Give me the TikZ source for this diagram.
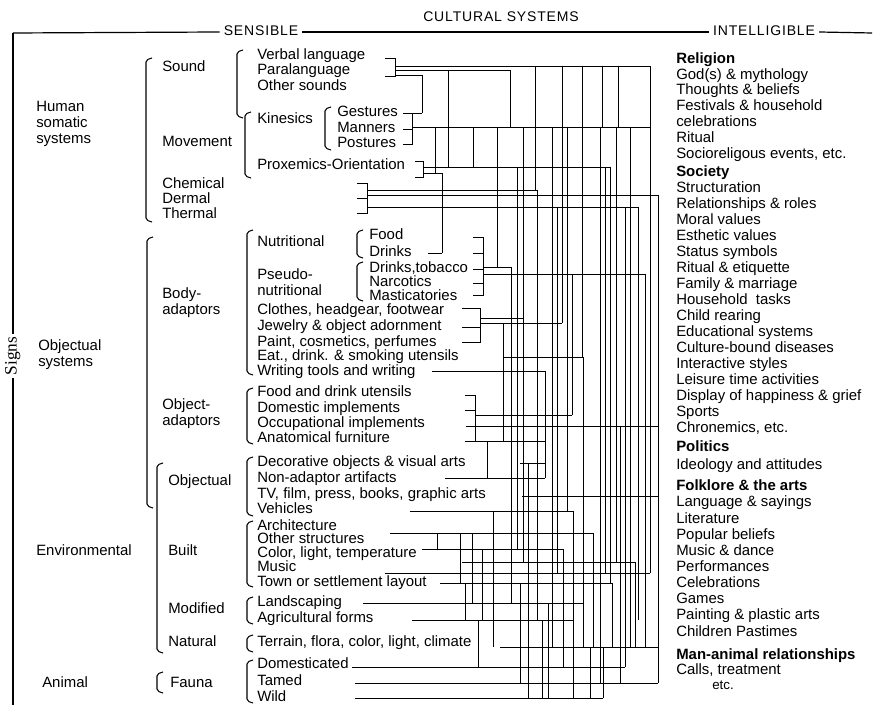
\documentclass[tikz,border=0pt]{standalone}
\usepackage{fontspec}
\setmainfont{Liberation Sans}
\newfontfamily\signfont{Liberation Serif}
\begin{document}
\begin{tikzpicture}[x=0.75pt,y=-0.75pt,
  font=\fontsize{11.2}{12}\selectfont,
  every node/.style={inner sep=0pt, anchor=west, text height=7.6pt, text depth=2pt},
  net/.style={line width=0.72pt},
  brk/.style={line width=0.8pt, rounded corners=1.5pt},
  hdr/.style={font=\fontsize{10.5}{12}\selectfont\addfontfeature{LetterSpace=6}, anchor=center, inner xsep=3pt}]
\useasboundingbox (0,0) rectangle (877,705);

% ---------- header ----------
\node[hdr] (cult) at (501,18) {CULTURAL SYSTEMS};
\node[hdr] (sens) at (261,32) {SENSIBLE};
\node[hdr] (intel) at (764,32) {INTELLIGIBLE};
\coordinate (tl) at (13,33);
\coordinate (tr) at (872,33);
\draw[line width=0.9pt] (tl) -- (sens.west);
\draw[line width=0.9pt] (sens.east) -- (intel.west);
\draw[line width=0.9pt] (intel.east) -- (tr);
\node[font=\signfont\fontsize{13}{14}\selectfont, rotate=90, anchor=center, inner xsep=2pt] (signs) at (13,356) {Signs};
\coordinate (bl) at (13,705);
\draw[line width=1pt] (tl) -- (signs.east);
\draw[line width=1pt] (signs.west) -- (bl);

% ---------- first column ----------
\foreach \n/\x/\y/\t in {h1/36/108/Human, h2/36/124/somatic, h3/36/140/systems,
  o1/38/347/Objectual, o2/38/363/systems, env/36/552/Environmental, ani/42/684/Animal}
  \node (\n) at (\x,\y) {\t};

% ---------- second column ----------
\foreach \n/\x/\y/\t in {snd/162/68/Sound, mov/162/143/Movement, che/162/185/Chemical,
  der/162/200/Dermal, the/162/215/Thermal, bod1/162/295/Body-, bod2/162/311/adaptors,
  oba1/162/406/Object-, oba2/162/422/adaptors, eobj/168/482/Objectual, blt/168/552/Built,
  mod/168/610/Modified, nat/168/643/Natural, fau/170/684/Fauna}
  \node (\n) at (\x,\y) {\t};

% ---------- third column ----------
\foreach \n/\x/\y/\t in {verb/257/56/Verbal language, para/257/71/Paralanguage,
  oth/257/87/Other sounds, kin/257/120/Kinesics, prox/257/166/Proxemics-Orientation,
  nut/257/243/Nutritional, pse1/257/276/Pseudo-, pse2/257/292/nutritional,
  clo/257/311/{Clothes, headgear, footwear}, jew/257/327/Jewelry \& object adornment,
  pai/257/343/{Paint, cosmetics, perfumes}, eat/257/357/{Eat., drink. \& smoking utensils},
  wri/257/372/Writing tools and writing, fdu/257/393/Food and drink utensils,
  dom/257/409/Domestic implements, occ/257/424/Occupational implements,
  ana/257/439/Anatomical furniture, dec/257/463/Decorative objects \& visual arts,
  non/257/479/Non-adaptor artifacts, tv/257/495/{TV, film, press, books, graphic arts},
  veh/257/510/Vehicles, arc/257/527/Architecture, ost/257/540/Other structures,
  col/257/554/{Color, light, temperature}, mus/257/568/Music,
  town/257/583/Town or settlement layout, lan/257/603/Landscaping,
  agr/257/619/Agricultural forms, ter/257/643/{Terrain, flora, color, light, climate},
  domc/257/665/Domesticated, tam/257/682/Tamed, wild/257/698/Wild}
  \node (\n) at (\x,\y) {\t};

% ---------- fourth column ----------
\foreach \n/\x/\y/\t in {ges/337/113/Gestures, man/337/129/Manners, pos/337/144/Postures,
  food/369/236/Food, drk/369/253/Drinks, dtob/369/269/{Drinks,tobacco},
  nar/369/283/Narcotics, mas/369/297/Masticatories}
  \node (\n) at (\x,\y) {\t};

% ---------- right column ----------
\foreach \n/\y/\t in {r1/60/\textbf{Religion}, r2/76/God(s) \& mythology, r3/91/Thoughts \& beliefs,
  r4/107/Festivals \& household, r5/123/celebrations, r6/139/Ritual,
  r7/155/{Socioreligous events, etc.}, r8/173/\textbf{Society}, r9/189/Structuration,
  r10/205/Relationships \& roles, r11/221/Moral values, r12/237/Esthetic values,
  r13/253/Status symbols, r14/269/Ritual \& etiquette, r15/285/Family \& marriage,
  r16/301/Household\ \ tasks, r17/317/Child rearing, r18/333/Educational systems,
  r19/349/Culture-bound diseases, r20/365/Interactive styles, r21/381/Leisure time activities,
  r22/397/Display of happiness \& grief, r23/413/Sports, r24/429/{Chronemics, etc.},
  r25/448/\textbf{Politics}, r26/466/Ideology and attitudes, r27/487/\textbf{Folklore \& the arts},
  r28/503/Language \& sayings, r29/520/Literature, r30/536/Popular beliefs,
  r31/552/Music \& dance, r32/568/Performances, r33/584/Celebrations, r34/600/Games,
  r35/616/Painting \& plastic arts, r36/633/Children Pastimes,
  r37/656/\textbf{Man-animal relationships}, r38/671/{Calls, treatment}}
  \node (\n) at (676,\y) {\t};
\node[font=\fontsize{10}{11}\selectfont] (r39) at (712,686) {etc.};

% ---------- left brackets ----------
\foreach \x/\a/\b in {146/58/222, 237/50/118, 245/112/178, 325/107/150,
  147/237/508, 247/230/375, 357/230/258, 357/262/301, 247/388/444,
  157/463/653, 247/457/516, 247/521/587, 247/597/624, 247/635/652,
  157/672/693, 247/660/703}
  \draw[brk] (\x+6,\a) -- (\x,\a+2) -- (\x,\b-2) -- (\x+6,\b);

% ---------- right brackets ----------
\foreach \x/\a/\b/\s in {395/58/76/385, 412/113/144/403, 423/161/177/415, 367/183/213/357,
  483/237/295/473, 480/308/342/462, 475/395/441/465}
  \draw[net] (\s,\a) -- (\x,\a) -- (\x,\b) -- (\s,\b);
\foreach \x/\y/\s in {412/129/403, 367/198/357, 483/253/473, 483/269/473, 483/283/473,
  480/327/462, 475/410/465}
  \draw[net] (\s,\y) -- (\x,\y);

% ---------- connector network: horizontals ----------
\foreach \y/\a/\b in {66/395/650, 70/395/510, 75/395/422, 113/412/422, 127/412/650,
  167/423/610, 173/423/442, 190/367/537, 195/367/658, 207/367/638, 253/428/442,
  267/483/511, 274/483/645, 318/480/523, 323/480/562, 357/503/583, 371/432/545,
  415/475/572, 426/466/658, 441/475/545, 463/520/545, 478/445/545, 496/522/658,
  511/410/573, 533/390/593, 549/422/563, 562/462/635, 573/385/650, 583/440/612,
  603/363/583, 620/412/573, 647/500/658, 667/352/625, 683/355/658, 698/355/603}
  \draw[net] (\a,\y) -- (\b,\y);

% ---------- connector network: verticals ----------
\foreach \x/\a/\b in {422/75/113, 435/127/173, 437/533/549, 442/173/253, 448/70/167,
  460/533/583, 465/583/620, 472/533/603, 473/127/167, 478/620/667,
  482/549/620, 487/441/478, 493/511/647, 497/127/267,
  503/323/441, 510/70/127, 511/267/603, 517/167/549, 520/583/683, 523/127/562, 528/463/698,
  535/66/190, 537/190/620, 542/620/698, 545/371/478, 548/603/698, 552/127/647, 557/207/573,
  562/66/323, 563/549/667, 567/127/511, 572/274/415, 573/511/698, 582/66/357,
  583/357/647, 590/647/698, 593/533/647, 600/127/683, 602/66/127, 603/647/698, 605/167/573,
  610/167/583, 612/583/647, 616/127/562, 618/66/127, 620/426/683, 625/207/667, 630/127/647,
  635/562/647, 638/207/620, 645/274/647, 650/66/573, 658/195/683}
  \draw[net] (\x,\a) -- (\x,\b);
\end{tikzpicture}
\end{document}
